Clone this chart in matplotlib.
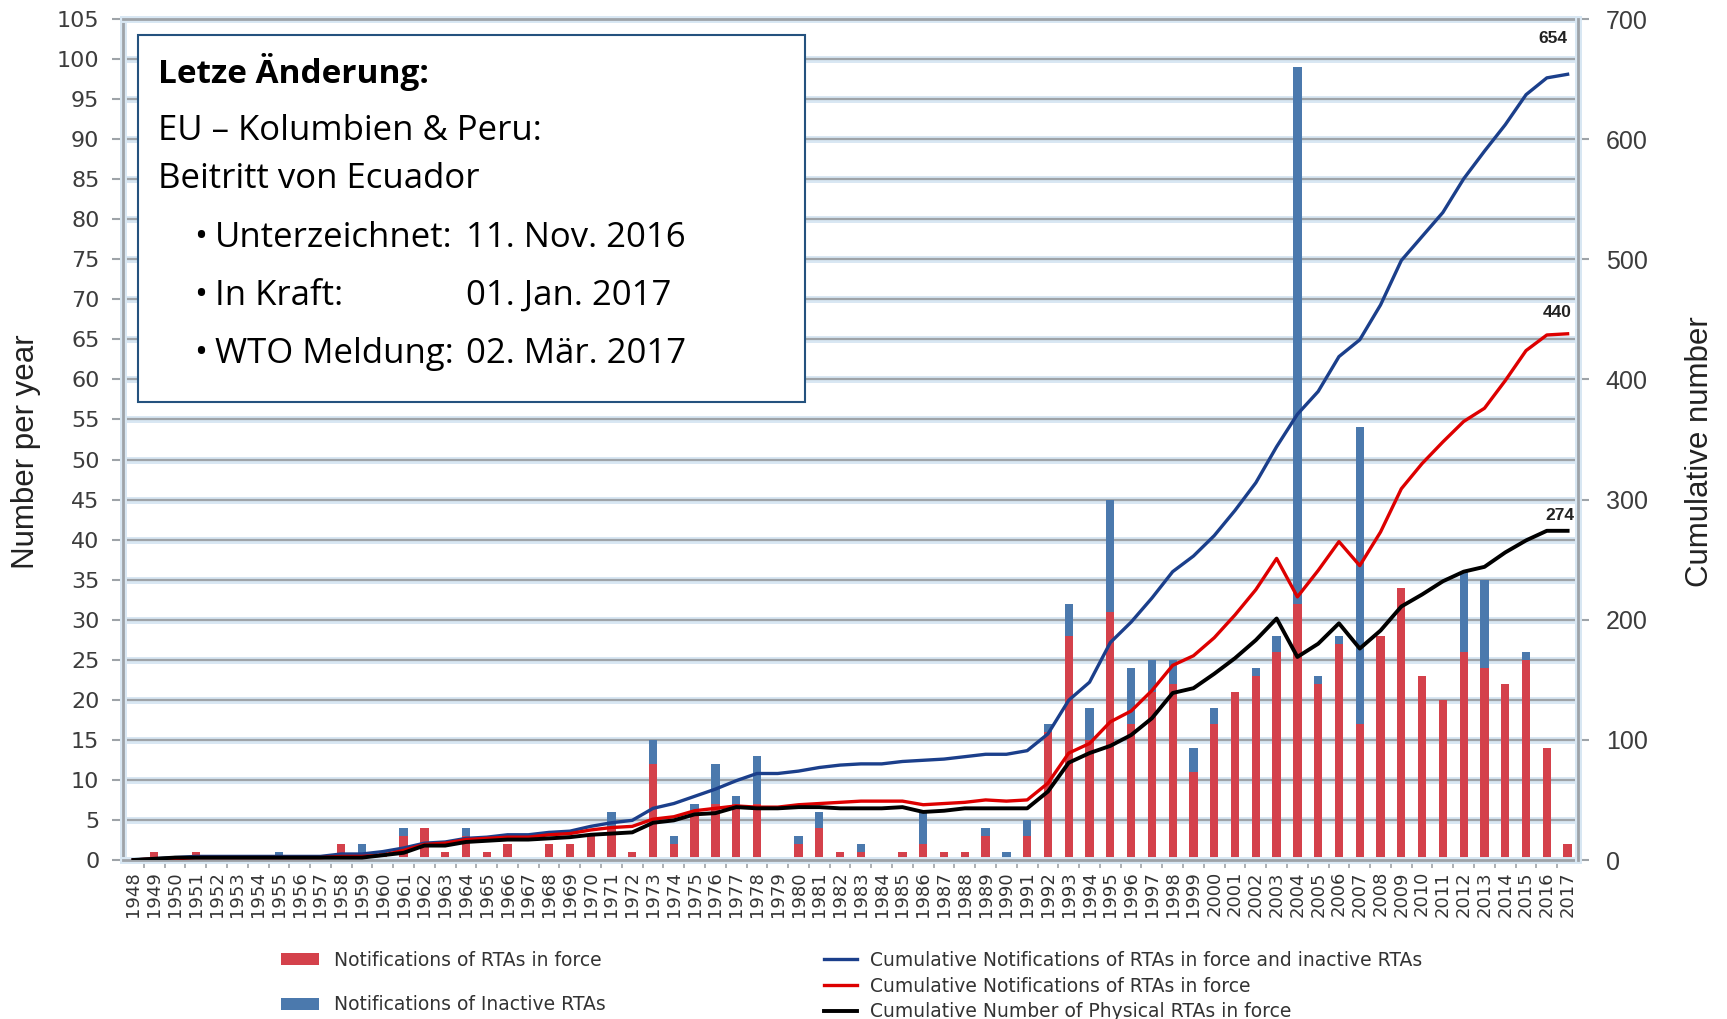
import matplotlib.pyplot as plt
import matplotlib.patheffects as pe
from matplotlib.patches import Rectangle
import numpy as np

years = list(range(1948, 2018))

# notifications per year (left axis)
in_force = [0, 1, 0, 1, 0, 0, 0, 0, 0, 0, 2, 0, 1, 3, 4, 1, 3, 1, 2, 0,
            2, 2, 3, 4, 1, 12, 2, 6, 7, 7, 7, 0, 2, 4, 1, 1, 0, 1, 2, 1,
            1, 3, 0, 3, 16, 28, 15, 31, 17, 21, 22, 11, 17, 21, 23, 26, 32, 22, 27, 17,
            28, 34, 23, 20, 26, 24, 22, 25, 14, 2]
inactive = [0, 0, 0, 0, 0, 0, 0, 1, 0, 0, 0, 2, 0, 1, 0, 0, 1, 0, 0, 0,
            0, 0, 0, 2, 0, 3, 1, 1, 5, 1, 6, 0, 1, 2, 0, 1, 0, 0, 4, 0,
            0, 1, 1, 2, 1, 4, 4, 14, 7, 4, 3, 3, 2, 0, 1, 2, 67, 1, 1, 37,
            0, 0, 0, 0, 10, 11, 0, 1, 0, 0]

# cumulative series (right axis)
cum_all = [0, 1, 2, 3, 3, 3, 3, 3, 3, 3, 5, 5, 7, 10, 14, 15, 18, 19, 21, 21,
           23, 24, 28, 31, 33, 43, 47, 53, 59, 66, 72, 72, 74, 77, 79, 80, 80, 82, 83, 84,
           86, 88, 88, 91, 105, 133, 148, 181, 198, 218, 240, 253, 270, 291, 314, 344, 371, 390, 419, 433,
           462, 499, 519, 539, 567, 590, 612, 637, 651, 654]
cum_force = [0, 1, 1, 2, 2, 2, 2, 2, 2, 2, 3, 3, 4, 8, 13, 14, 17, 18, 19, 19,
             21, 22, 25, 27, 28, 34, 36, 41, 43, 45, 44, 44, 46, 47, 48, 49, 49, 49, 46, 47,
             48, 50, 49, 50, 64, 89, 97, 115, 124, 141, 162, 170, 185, 204, 225, 251, 219, 241, 265, 245,
             273, 309, 330, 348, 365, 376, 399, 424, 437, 438]
cum_phys = [0, 1, 2, 2, 2, 2, 2, 2, 2, 2, 2, 2, 4, 6, 12, 12, 15, 16, 17, 17,
            18, 19, 21, 22, 23, 31, 33, 38, 39, 44, 43, 43, 44, 44, 43, 43, 43, 44, 40, 41,
            43, 43, 43, 43, 57, 81, 89, 95, 104, 118, 139, 143, 155, 168, 183, 201, 169, 180, 197, 176,
            191, 211, 221, 232, 240, 244, 256, 266, 274, 274]

end_labels = ["654", "440", "274"]

RED = "#d4414b"
BLUE = "#4b79ad"
GRID = "#9ea3a8"
GLOW = "#d8e7f3"

W, H = 1727, 1019
fig = plt.figure(figsize=(W / 100, H / 100), dpi=100)
ax = fig.add_axes([123 / W, 1 - 860 / H, (1578 - 123) / W, (860 - 19) / H])
x = np.arange(len(years))

b1 = ax.bar(x, in_force, 0.4, color=RED, zorder=2, label="Notifications of RTAs in force")
b2 = ax.bar(x, inactive, 0.4, bottom=in_force, color=BLUE, zorder=2,
            label="Notifications of Inactive RTAs")

ax.set_xlim(-0.5, len(years) - 0.5)
ax.set_ylim(0, 105)
ax.set_yticks(range(0, 106, 5))
ax.yaxis.grid(True, color=GRID, lw=1.6)
ax.set_axisbelow(True)
for gl in ax.get_ygridlines():
    gl.set_path_effects([pe.Stroke(linewidth=5, foreground=GLOW), pe.Normal()])

ax.set_xticks(x)
ax.set_xticklabels(years, rotation=90, fontsize=13, color="#333333")
ax.set_xticks(x[:-1] + 0.5, minor=True)
ax.tick_params(axis="x", which="major", length=0, pad=8)
ax.tick_params(axis="x", which="minor", length=6, color=GRID, width=1.2)
ax.tick_params(axis="y", length=8, pad=9, color=GRID, width=1.5, labelsize=16,
               labelcolor="#3c3c3c")

for side in ["left", "right", "bottom", "top"]:
    ax.spines[side].set_color(GRID)
    ax.spines[side].set_linewidth(2)
    ax.spines[side].set_path_effects([pe.Stroke(linewidth=5, foreground=GLOW), pe.Normal()])

ax2 = ax.twinx()
ax2.set_ylim(0, 700)
ax2.set_yticks(range(0, 701, 100))
l1, = ax2.plot(x, cum_all, color="#1b3f8b", lw=2.4,
               label="Cumulative Notifications of RTAs in force and inactive RTAs")
l2, = ax2.plot(x, cum_force, color="#dd0000", lw=2.4,
               label="Cumulative Notifications of RTAs in force")
l3, = ax2.plot(x, cum_phys, color="black", lw=2.8,
               label="Cumulative Number of Physical RTAs in force")
ax2.tick_params(axis="y", length=8, pad=12, color=GRID, width=1.5, labelsize=18,
                labelcolor="#3c3c3c", labelfontfamily="Liberation Sans")
for side in ["left", "top", "bottom"]:
    ax2.spines[side].set_visible(False)
ax2.spines["right"].set_color(GRID)
ax2.spines["right"].set_linewidth(2)
ax2.spines["right"].set_path_effects([pe.Stroke(linewidth=5, foreground=GLOW), pe.Normal()])

# end value labels
for series, txt, off in zip([cum_all, cum_force, cum_phys], end_labels, [(0, 31), (4, 17), (7, 11)]):
    ax2.annotate(txt, xy=(x[-1], series[-1]), xytext=off, textcoords="offset pixels",
                 ha="right", va="baseline", fontsize=12.5, fontweight="bold",
                 family="Liberation Sans", color="#222222")

fig.text(26 / W, 1 - 452 / H, "Number per year", rotation=90, ha="center", va="center",
         fontsize=22.5, family="Liberation Sans", color="#222222")
fig.text(1700 / W, 1 - 452 / H, "Cumulative number", rotation=90, ha="center", va="center",
         fontsize=22.5, family="Liberation Sans", color="#222222")

# info box
fig.add_artist(Rectangle((138 / W, 1 - 402 / H), (805 - 138) / W, (402 - 35) / H,
                         transform=fig.transFigure, facecolor="white", edgecolor="#24527e",
                         lw=1.5, zorder=5))
box_font = dict(family="Open Sans", fontsize=25, color="black", zorder=6, va="baseline")
fig.text(158 / W, 1 - 83 / H, "Letze Änderung:", fontweight="bold",
         **{**box_font, "fontsize": 24})
fig.text(158 / W, 1 - 140 / H, "EU – Kolumbien & Peru:", **box_font)
fig.text(158 / W, 1 - 188 / H, "Beitritt von Ecuador", **box_font)
rows = [("Unterzeichnet:", "11. Nov. 2016"), ("In Kraft:", "01. Jan. 2017"),
        ("WTO Meldung:", "02. Mär. 2017")]
for i, (k, v) in enumerate(rows):
    yb = 1 - (247 + 58 * i) / H
    fig.text(194 / W, yb, "•", **box_font)
    fig.text(215 / W, yb, k, **box_font)
    fig.text(466 / W, yb, v, **box_font)

leg_kw = dict(frameon=False, loc="upper left", borderaxespad=0, borderpad=0,
              prop={"family": "DejaVu Sans", "size": 13.5})
lg1 = fig.legend(handles=[b1, b2], bbox_to_anchor=(281 / W, 1 - 951 / H),
                 handlelength=2.03, handleheight=0.6, handletextpad=0.8,
                 labelspacing=1.35, **leg_kw)
lg2 = fig.legend(handles=[l1, l2, l3], bbox_to_anchor=(824 / W, 1 - 951 / H),
                 handlelength=1.76, handletextpad=0.7, labelspacing=0.35, **leg_kw)
for lg in (lg1, lg2):
    for t in lg.get_texts():
        t.set_color("#333333")

fig.savefig("out.png", dpi=100)
